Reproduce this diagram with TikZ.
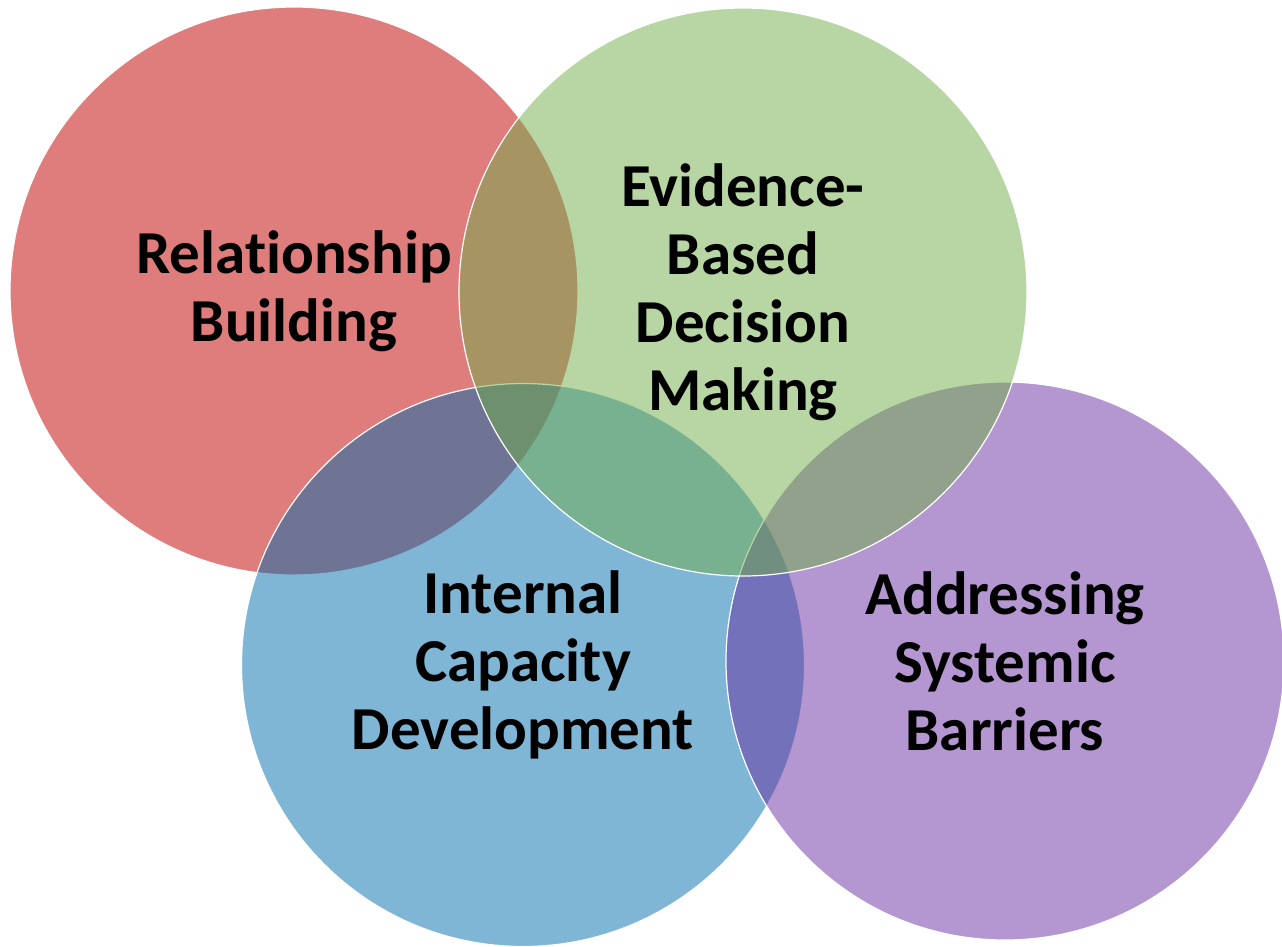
\documentclass[tikz,border=0pt]{standalone}
\usepackage{fontspec}
\setmainfont{Carlito}[Ligatures=NoCommon]
\definecolor{relred}{RGB}{223,124,124}
\definecolor{evigreen}{RGB}{111,173,73}
\definecolor{capblue}{RGB}{0,109,173}
\definecolor{syspurple}{RGB}{105,45,161}
\begin{document}
\begin{tikzpicture}[x=1pt,y=-1pt]
\tikzstyle{every node}+=[inner sep=0pt]
\tikzstyle{ring}=[circle, draw=white, line width=1.2pt, fill opacity=0.5, text opacity=1,
  align=center, font=\bfseries\fontsize{61}{68}\selectfont]
\useasboundingbox (0,0) rectangle (1282,946);
\node [ring, fill=relred, fill opacity=1, minimum size=568pt] (rel) at (294,291) {Relationship\\Building};
\node [ring, fill=capblue, minimum size=563pt] (cap) at (523,665) {Internal\\Capacity\\Development};
\node [ring, fill=syspurple, minimum size=558pt] (sys) at (1005,661) {Addressing\\Systemic\\Barriers};
\node [ring, fill=evigreen, minimum size=568pt] (evi) at (743,292) {Evidence-\\Based\\Decision\\Making};
\end{tikzpicture}
\end{document}
